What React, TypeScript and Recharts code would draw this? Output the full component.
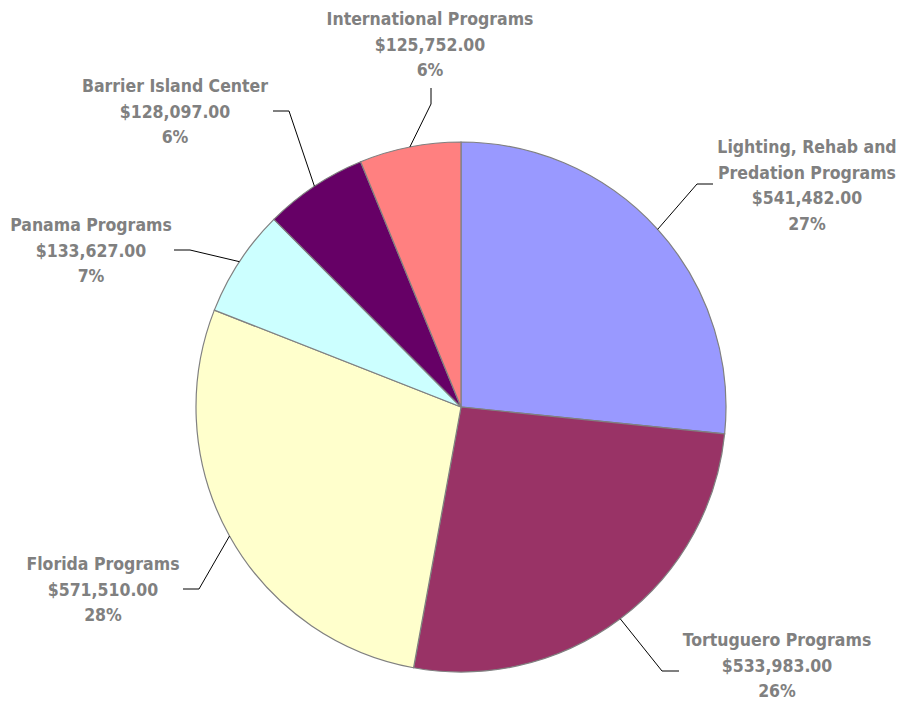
import { PieChart, Pie, Cell } from "recharts";

const categories = [
  "Lighting, Rehab and Predation Programs",
  "Tortuguero Programs",
  "Florida Programs",
  "Panama Programs",
  "Barrier Island Center",
  "International Programs",
];
const amounts = [541482, 533983, 571510, 133627, 128097, 125752];
const colors = ["#9999FF", "#993366", "#FFFFCC", "#CCFFFF", "#660066", "#FF8080"];

// label placement relative to pie centre: elbow, stub end, text centre x, first baseline y
const labelLayout = [
  { ex: 236, ey: -223, sx: 252, sy: -223, tx: 346, ty: -254 },
  { ex: 201, ey: 264, sx: 218, sy: 264, tx: 316, ty: 239 },
  { ex: -262, ey: 182, sx: -278, sy: 182, tx: -358, ty: 163 },
  { ex: -271, ey: -157, sx: -287, sy: -157, tx: -370, ty: -176 },
  { ex: -172, ey: -296, sx: -188, sy: -296, tx: -286, ty: -315 },
  { ex: -30, ey: -303, sx: -30, sy: -319, tx: -31, ty: -382 },
];

const data = categories.map((name, i) => ({ name, value: amounts[i] }));

const RAD = Math.PI / 180;
const LINE_H = 25.5;

function wrap(text: string, max = 22) {
  const words = text.split(" ");
  const lines: string[] = [];
  let cur = "";
  for (const w of words) {
    const next = cur ? cur + " " + w : w;
    if (next.length > max && cur) {
      lines.push(cur);
      cur = w;
    } else cur = next;
  }
  if (cur) lines.push(cur);
  return lines;
}

function renderLabel(props: any) {
  const { cx, cy, midAngle, outerRadius, index, name, value, percent } = props;
  const l = labelLayout[index];
  const px = cx + outerRadius * Math.cos(-midAngle * RAD);
  const py = cy + outerRadius * Math.sin(-midAngle * RAD);
  const lines = [
    ...wrap(name),
    "$" + value.toLocaleString("en-US", { minimumFractionDigits: 2, maximumFractionDigits: 2 }),
    Math.round(percent * 100) + "%",
  ];
  return (
    <g key={"lbl" + index}>
      <polyline
        points={`${px},${py} ${cx + l.ex},${cy + l.ey} ${cx + l.sx},${cy + l.sy}`}
        fill="none"
        stroke="#000"
        strokeWidth={1}
      />
      <text
        x={cx + l.tx}
        y={cy + l.ty}
        textAnchor="middle"
        fill="#808080"
        fontFamily="'DejaVu Sans Condensed', 'DejaVu Sans', sans-serif"
        fontWeight="bold"
        fontSize={17.5}
      >
        {lines.map((t, i) => (
          <tspan key={i} x={cx + l.tx} dy={i === 0 ? 0 : LINE_H}>
            {t}
          </tspan>
        ))}
      </text>
    </g>
  );
}

export default function App() {
  return (
    <div style={{ width: 913, height: 702, background: "#fff" }}>
      <style>{"body{margin:0}"}</style>
      <PieChart width={913} height={702} margin={{ top: 0, right: 0, bottom: 0, left: 0 }}>
        <Pie
          data={data}
          dataKey="value"
          nameKey="name"
          cx={461}
          cy={407}
          outerRadius={265}
          startAngle={90}
          endAngle={-270}
          stroke="#808080"
          strokeWidth={1.2}
          label={renderLabel}
          labelLine={false}
          isAnimationActive={false}
        >
          {data.map((d, i) => (
            <Cell key={d.name} fill={colors[i]} />
          ))}
        </Pie>
      </PieChart>
    </div>
  );
}
